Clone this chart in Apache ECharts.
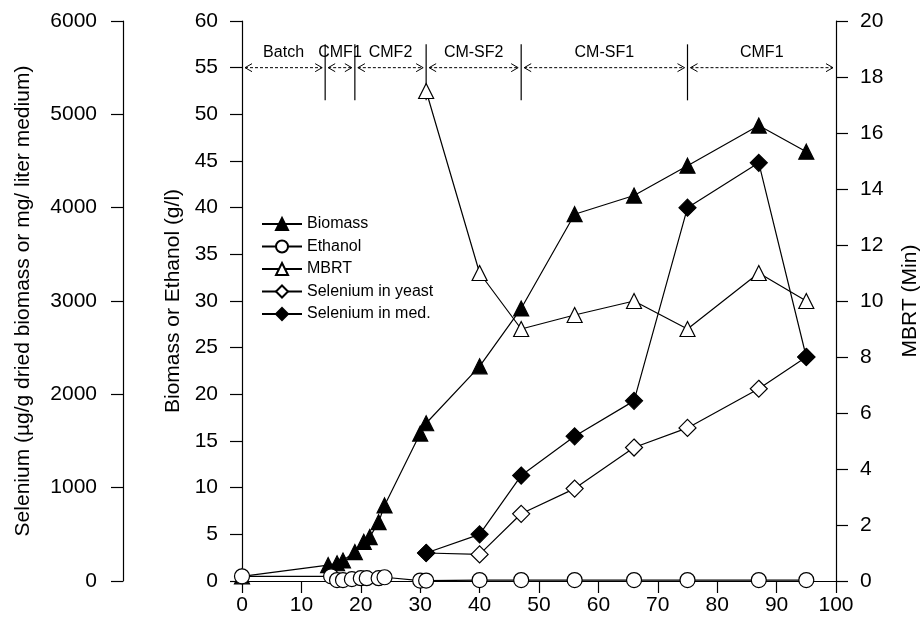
<!DOCTYPE html>
<html>
<head>
<meta charset="utf-8">
<script src="https://cdn.jsdelivr.net/npm/echarts@6/dist/echarts.min.js"></script>
<style>
  html, body { margin: 0; padding: 0; background: #fff; }
  #chart { width: 924px; height: 625px; }
</style>
</head>
<body>
<div id="chart"></div>
<script>
// time (h) and values
const biomassT = [0, 14.5, 16, 17, 19, 20.5, 21.5, 23, 24, 30, 31, 40, 47, 56, 66, 75, 87, 95];
const biomassV = [0.5, 1.7, 1.9, 2.2, 3.1, 4.2, 4.7, 6.3, 8.1, 15.8, 16.9, 23, 29.2, 39.3, 41.3, 44.5, 48.8, 46];

const ethanolT = [0, 15, 16, 17, 18.5, 20, 21, 23, 24, 30, 31, 40, 47, 56, 66, 75, 87, 95];
const ethanolV = [0.5, 0.5, 0.1, 0.1, 0.2, 0.3, 0.3, 0.3, 0.4, 0.05, 0.05, 0.1, 0.1, 0.1, 0.1, 0.1, 0.1, 0.1];

const mbrtT = [31, 40, 47, 56, 66, 75, 87, 95];
const mbrtV = [17.5, 11, 9, 9.5, 10, 9, 11, 10];

const seT = [31, 40, 47, 56, 66, 75, 87, 95];
const seYeastV = [300, 285, 720, 990, 1430, 1640, 2060, 2400];
const seMedV = [300, 500, 1130, 1550, 1930, 4000, 4480, 2400];

const phaseEdges = [0, 14, 19, 31, 47, 75, 100];
const phaseNames = ['Batch', 'CMF1', 'CMF2', 'CM-SF2', 'CM-SF1', 'CMF1'];

const zip = (t, v) => t.map((x, i) => [x, v[i]]);

const font = 'Liberation Sans, Arial, sans-serif';
const black = '#000';

const axisCommon = {
  axisLine: { show: true, lineStyle: { color: black, width: 1.2 } },
  axisTick: { show: true, inside: false, length: 12, lineStyle: { color: black, width: 1.2 } },
  axisLabel: { color: black, fontSize: 21, fontFamily: font, margin: 24, formatter: v => String(v) },
  splitLine: { show: false },
  nameLocation: 'middle',
  nameTextStyle: { color: black, fontSize: 21, fontFamily: font }
};

function lineSeries(name, data, symbol, fill, yIdx) {
  return {
    name: name,
    type: 'line',
    yAxisIndex: yIdx,
    data: data,
    symbol: symbol,
    symbolSize: symbol === 'diamond' ? 17 : 15,
    showAllSymbol: true,
    lineStyle: { color: black, width: 1.2 },
    itemStyle: { color: fill, borderColor: black, borderWidth: 1.2 },
    emphasis: { disabled: true }
  };
}

const chart = echarts.init(document.getElementById('chart'));
chart.setOption({
  animation: false,
  backgroundColor: '#fff',
  grid: { left: 242, right: 88, top: 21, bottom: 44, outerBoundsMode: 'none', containLabel: false },
  legend: {
    data: ['Biomass', 'Ethanol', 'MBRT', 'Selenium in yeast', 'Selenium in med.'],
    orient: 'vertical',
    left: 256,
    top: 211,
    itemWidth: 40,
    itemHeight: 15,
    itemGap: 6.5,
    textStyle: { color: black, fontSize: 16, fontFamily: font }
  },
  xAxis: Object.assign({}, axisCommon, {
    type: 'value', min: 0, max: 100, interval: 10,
    axisLabel: Object.assign({}, axisCommon.axisLabel, { margin: 14 })
  }),
  yAxis: [
    Object.assign({}, axisCommon, {
      type: 'value', position: 'left', min: 0, max: 60, interval: 5,
      name: 'Biomass or Ethanol (g/l)', nameGap: 57
    }),
    Object.assign({}, axisCommon, {
      type: 'value', position: 'right', min: 0, max: 20, interval: 2,
      name: 'MBRT (Min)', nameGap: 64, nameRotate: 90
    }),
    Object.assign({}, axisCommon, {
      type: 'value', position: 'left', offset: 119, min: 0, max: 6000, interval: 1000,
      name: 'Selenium (µg/g dried biomass or mg/ liter medium)', nameGap: 89,
      axisLabel: Object.assign({}, axisCommon.axisLabel, { margin: 26 })
    })
  ],
  series: [
    lineSeries('Biomass', zip(biomassT, biomassV), 'triangle', black, 0),
    lineSeries('Ethanol', zip(ethanolT, ethanolV), 'circle', '#fff', 0),
    lineSeries('MBRT', zip(mbrtT, mbrtV), 'triangle', '#fff', 1),
    lineSeries('Selenium in yeast', zip(seT, seYeastV), 'diamond', '#fff', 2),
    lineSeries('Selenium in med.', zip(seT, seMedV), 'diamond', black, 2),
    {
      type: 'custom',
      name: 'phases',
      yAxisIndex: 0,
      silent: true,
      data: phaseNames.map((n, i) => [i, phaseEdges[i], phaseEdges[i + 1]]),
      renderItem: function (params, api) {
        const i = api.value(0);
        const a = api.coord([api.value(1), 55]);
        const b = api.coord([api.value(2), 55]);
        const y = a[1];
        const x0 = a[0] + 3, x1 = b[0] - 3;
        const st = { stroke: black, lineWidth: 1, fill: null };
        const kids = [
          { type: 'line', shape: { x1: x0, y1: y, x2: x1, y2: y }, style: Object.assign({}, st, { lineDash: [3, 2] }) },
          { type: 'polyline', shape: { points: [[x0 + 7, y - 4], [x0, y], [x0 + 7, y + 4]] }, style: st },
          { type: 'polyline', shape: { points: [[x1 - 7, y - 4], [x1, y], [x1 - 7, y + 4]] }, style: st },
          { type: 'text', style: {
              text: phaseNames[i], x: (a[0] + b[0]) / 2, y: y - 7,
              align: 'center', verticalAlign: 'bottom',
              fill: black, fontSize: 16, fontFamily: font } }
        ];
        if (api.value(2) < 100) {
          const top = api.coord([api.value(2), 57.5]);
          const bot = api.coord([api.value(2), 51.5]);
          kids.push({ type: 'line', shape: { x1: top[0], y1: top[1], x2: bot[0], y2: bot[1] }, style: Object.assign({}, st, { lineWidth: 1.2 }) });
        }
        return { type: 'group', children: kids };
      }
    }
  ]
});
</script>
</body>
</html>
